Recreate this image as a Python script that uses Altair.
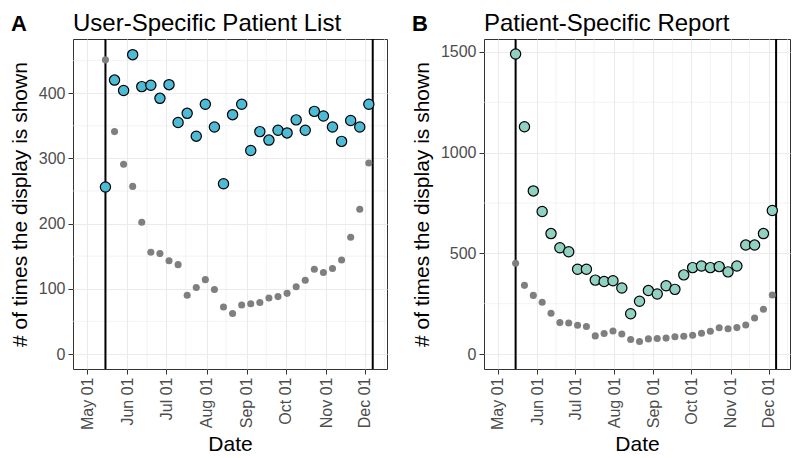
import altair as alt
import pandas as pd

dates = [
    "2017-05-15", "2017-05-22", "2017-05-29", "2017-06-05", "2017-06-12",
    "2017-06-19", "2017-06-26", "2017-07-03", "2017-07-10", "2017-07-17",
    "2017-07-24", "2017-07-31", "2017-08-07", "2017-08-14", "2017-08-21",
    "2017-08-28", "2017-09-04", "2017-09-11", "2017-09-18", "2017-09-25",
    "2017-10-02", "2017-10-09", "2017-10-16", "2017-10-23", "2017-10-30",
    "2017-11-06", "2017-11-13", "2017-11-20", "2017-11-27", "2017-12-04",
]
user_list = [256, 420, 404, 459, 410, 412, 392, 413, 355, 369,
             334, 383, 348, 261, 367, 383, 312, 341, 328, 343,
             339, 359, 343, 372, 365, 348, 326, 358, 348, 383]
patient_report = [1490, 1129, 810, 708, 598, 528, 508, 421, 421, 367,
                  360, 364, 328, 200, 262, 315, 298, 339, 321, 393,
                  429, 437, 429, 434, 408, 437, 541, 541, 598, 713]
baseline = [451, 341, 291, 257, 202, 156, 154, 143, 137, 90,
            102, 114, 99, 72, 62, 75, 77, 79, 86, 88,
            93, 103, 113, 130, 125, 131, 144, 179, 222, 293]
study_bounds = ["2017-05-15", "2017-12-07"]
month_ticks = ["2017-05-01", "2017-06-01", "2017-07-01", "2017-08-01",
               "2017-09-01", "2017-10-01", "2017-11-01", "2017-12-01"]
month_minor = ["2017-05-16", "2017-06-16", "2017-07-16", "2017-08-16",
               "2017-09-16", "2017-10-16", "2017-11-16", "2017-12-16"]
x_domain = ["2017-04-20", "2017-12-18"]

FONT = "Liberation Sans"
GRID = "#EBEBEB"


def t(s):
    return s + "T00:00:00"


def panel(values, color, title, letter, letter_dx, yticks, ydomain, yminor, width):
    df = pd.DataFrame({"date": [t(d) for d in dates], "count": values, "base": baseline})
    xscale = alt.Scale(domain=[t(d) for d in x_domain])
    yscale = alt.Scale(domain=ydomain, nice=False, zero=False)
    xaxis = alt.Axis(values=[t(d) for d in month_ticks], format="%b %d", labelAngle=270,
                     labelAlign="right", labelBaseline="middle", title="Date",
                     titlePadding=4)
    yaxis = alt.Axis(values=yticks, format="d", title="# of times the display is shown")
    X = alt.X("date:T", scale=xscale, axis=xaxis)
    Y = alt.Y("count:Q", scale=yscale, axis=yaxis)

    minor_x = alt.Chart(pd.DataFrame({"date": [t(d) for d in month_minor]})).mark_rule(
        color=GRID, strokeWidth=0.6).encode(x=X)
    minor_y = alt.Chart(pd.DataFrame({"count": yminor})).mark_rule(
        color=GRID, strokeWidth=0.6).encode(y=Y)
    bounds = alt.Chart(pd.DataFrame({"date": [t(d) for d in study_bounds]})).mark_rule(
        color="black", strokeWidth=2).encode(x=X)
    base = alt.Chart(df).mark_circle(size=50, color="#7F7F7F", opacity=1).encode(
        x=X, y=alt.Y("base:Q", scale=yscale, axis=yaxis))
    pts = alt.Chart(df).mark_point(filled=True, size=105, fill=color, stroke="black",
                                   strokeWidth=1.2, opacity=1, shape="circle").encode(x=X, y=Y)
    lab = alt.Chart(pd.DataFrame({"lab": [letter]})).mark_text(
        fontSize=22, fontWeight="bold", font=FONT, align="left", baseline="alphabetic",
        color="black"
    ).encode(text="lab:N", x=alt.value(letter_dx), y=alt.value(-8))
    ttl = alt.Chart(pd.DataFrame({"lab": [title]})).mark_text(
        fontSize=24, font=FONT, align="left", baseline="alphabetic", color="black"
    ).encode(text="lab:N", x=alt.value(0), y=alt.value(-8))
    return alt.layer(minor_x, minor_y, bounds, base, pts, lab, ttl).properties(
        width=width, height=330,
    )


a = panel(user_list, "#4DBBD5", "User-Specific Patient List", "A", -62,
          [0, 100, 200, 300, 400], [-23, 483], [50, 150, 250, 350, 450], 314)
b = panel(patient_report, "#91D1C2", "Patient-Specific Report", "B", -72,
          [0, 500, 1000, 1500], [-74.5, 1564.5], [250, 750, 1250], 306)

chart = alt.hconcat(a, b, spacing=22).properties(
    padding={"left": 0, "top": 3, "right": 0, "bottom": 0}
).configure_view(
    stroke="#333333", strokeWidth=1
).configure_axis(
    labelFont=FONT, labelFontSize=16, labelColor="#4D4D4D",
    titleFont=FONT, titleFontSize=21, titleColor="black", titleFontWeight="normal",
    tickColor="#333333", tickSize=5, labelPadding=3, titlePadding=8,
    domain=False, grid=True, gridColor=GRID, gridWidth=1.1,
)

chart.save("out.html", embed_options={"renderer": "svg", "actions": False})
